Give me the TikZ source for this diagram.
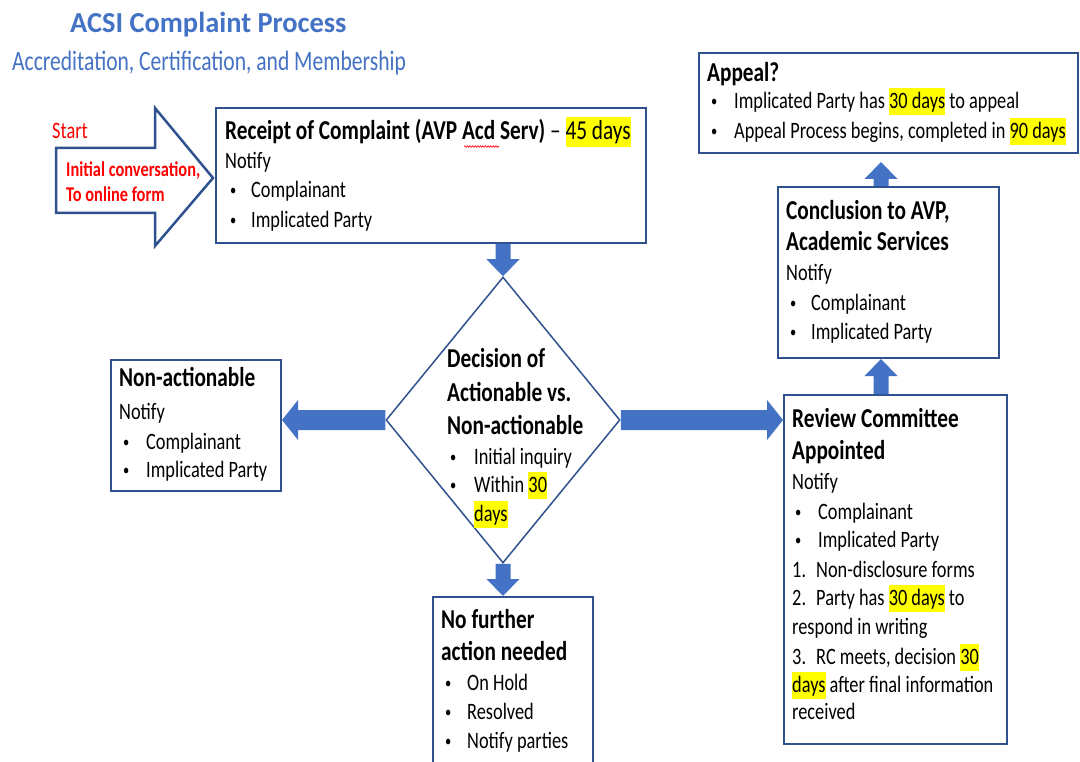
\documentclass[tikz,border=0pt]{standalone}
\usepackage{fontspec}
\setmainfont{Carlito}[FakeStretch=0.78]
\newfontfamily\titlefont{Carlito}[FakeStretch=0.98]
\newfontfamily\subfont{Carlito}[FakeStretch=0.77]
\usetikzlibrary{shapes.geometric,calc,decorations.pathmorphing}
\definecolor{boxblue}{RGB}{47,82,143}
\definecolor{arrowblue}{RGB}{68,114,196}
\definecolor{titleblue}{RGB}{68,114,196}
\definecolor{hlyellow}{RGB}{255,255,0}
\definecolor{txtred}{RGB}{255,0,0}
\newcommand{\hl}[1]{{\setlength{\fboxsep}{0pt}\colorbox{hlyellow}{\rule[-0.27em]{0pt}{1.13em}#1}}}
\newcommand{\bul}[1]{\makebox[#1][l]{\raisebox{2.2pt}{\fontsize{16}{16}\selectfont•}}}
\newcommand{\barrowdown}[2]{\fill[arrowblue] ($(#1)+(-7.5,0)$) -- ($(#2)+(-7.5,-17)$) -- ($(#2)+(-16.5,-17)$) -- (#2) -- ($(#2)+(16.5,-17)$) -- ($(#2)+(7.5,-17)$) -- ($(#1)+(7.5,0)$) -- cycle;}
\newcommand{\barrowup}[2]{\fill[arrowblue] ($(#1)+(-7.5,0)$) -- ($(#2)+(-7.5,17)$) -- ($(#2)+(-16.5,17)$) -- (#2) -- ($(#2)+(16.5,17)$) -- ($(#2)+(7.5,17)$) -- ($(#1)+(7.5,0)$) -- cycle;}
\newcommand{\barrowleft}[2]{\fill[arrowblue] ($(#1)+(0,-10)$) -- ($(#2)+(16,-10)$) -- ($(#2)+(16,-20)$) -- (#2) -- ($(#2)+(16,20)$) -- ($(#2)+(16,10)$) -- ($(#1)+(0,10)$) -- cycle;}
\newcommand{\barrowright}[2]{\fill[arrowblue] ($(#1)+(0,-10)$) -- ($(#2)+(-16,-10)$) -- ($(#2)+(-16,-20)$) -- (#2) -- ($(#2)+(-16,20)$) -- ($(#2)+(-16,10)$) -- ($(#1)+(0,10)$) -- cycle;}
\tikzset{
  box/.style={draw=boxblue, line width=2pt, fill=white, inner sep=0pt, anchor=north west},
  txt/.style={anchor=base west, inner sep=0pt, text=black, font=\fontsize{23.5}{28}\selectfont},
  head/.style={txt, font=\fontsize{27.3}{32}\selectfont\bfseries},
  redtxt/.style={txt, text=txtred},
  redhead/.style={txt, text=txtred, font=\fontsize{21}{25}\selectfont\bfseries},
}
\begin{document}
\begin{tikzpicture}[x=1pt,y=-1pt]
\clip (0,0) rectangle (1080,762);
\fill[white] (0,0) rectangle (1080,762);

% titles
\node[anchor=base west, inner sep=0pt, text=titleblue, font=\titlefont\fontsize{29}{34}\selectfont\bfseries] (title) at (70,32.7) {ACSI Complaint Process};
\node[anchor=base west, inner sep=0pt, text=titleblue, font=\subfont\fontsize{28}{33}\selectfont] (subtitle) at (12,71) {Accreditation, Certification, and Membership};

% boxes
\node[box, minimum width=430pt, minimum height=135pt] (receipt) at (215,107) {};
\node[box, minimum width=379pt, minimum height=100pt] (appeal) at (698,52) {};
\node[box, minimum width=221pt, minimum height=171pt] (conc) at (777,186) {};
\node[box, minimum width=223pt, minimum height=349pt] (review) at (783,394) {};
\node[box, minimum width=170pt, minimum height=131pt] (nonact) at (110,359) {};
\node[box, minimum width=160pt, minimum height=200pt] (nofurther) at (432,596) {};
\node[diamond, draw=boxblue, line width=1.5pt, fill=white, minimum width=234pt, minimum height=286pt, inner sep=0pt] (dec) at (503,420) {};

% start arrow
\coordinate (startTip) at ($(receipt.west)+(-2,2.5)$);
\draw[boxblue, line width=2.5pt, fill=white, line join=miter] (56,148) -- (155,148) -- (155,108) -- (startTip) -- (155,246) -- (155,213) -- (56,213) -- cycle;
\node[redtxt] (start) at (52,139) {Start};
\node[redhead] (init1) at (66,177) {Initial conversation,};
\node[redhead] (init2) at (66,202) {To online form};

% connectors
\coordinate (a1s) at (receipt.south -| dec.north);
\barrowdown{a1s}{dec.north}
\coordinate (a2t) at (dec.west -| nonact.east);
\barrowleft{dec.west}{a2t}
\coordinate (a3t) at (dec.east -| review.west);
\barrowright{dec.east}{a3t}
\coordinate (a4t) at (nofurther.north -| dec.south);
\barrowdown{dec.south}{a4t}
\coordinate (a5t) at ($(conc.south)+(-7.5,0)$);
\coordinate (a5s) at (a5t |- review.north);
\barrowup{a5s}{a5t}
\coordinate (a6s) at ($(conc.north)+(-7.5,0)$);
\coordinate (a6b) at (a6s |- appeal.south);
\coordinate (a6t) at ($(a6b)+(0,8)$);
\barrowup{a6s}{a6t}

% receipt text
\node[head] (r1) at (225,140) {Receipt of Complaint (AVP Acd Serv) {\mdseries–} {\mdseries\hl{45 days}}};
\draw[red, line width=0.6pt, decorate, decoration={snake, amplitude=0.8pt, segment length=2.6pt}] (464,146.5) -- (499,146.5);
\node[txt] (r2) at (225,168.5) {Notify};
\node[txt] (r3) at (230,197.5) {\bul{21pt}Complainant};
\node[txt] (r4) at (230,227.5) {\bul{21pt}Implicated Party};

% appeal text
\node[head] (p1) at (707,82) {Appeal?};
\node[txt] (p2) at (711,108.5) {\bul{23pt}Implicated Party has \hl{30 days} to appeal};
\node[txt] (p3) at (711,138.5) {\bul{23pt}Appeal Process begins, completed in \hl{90 days}};

% conclusion text
\node[head] (c1) at (786,220) {Conclusion to AVP,};
\node[head] (c2) at (786,251) {Academic Services};
\node[txt] (c3) at (786,280.5) {Notify};
\node[txt] (c4) at (790,310.5) {\bul{21pt}Complainant};
\node[txt] (c5) at (790,339.5) {\bul{21pt}Implicated Party};

% review text
\node[head] (v1) at (792,427) {Review Committee};
\node[head] (v2) at (792,459) {Appointed};
\node[txt] (v3) at (792,489.5) {Notify};
\node[txt] (v4) at (795,519.5) {\bul{23pt}Complainant};
\node[txt] (v5) at (795,547.5) {\bul{23pt}Implicated Party};
\node[txt] (v6) at (792,577.5) {\makebox[24pt][l]{1.}Non-disclosure forms};
\node[txt] (v7) at (792,605.5) {\makebox[24pt][l]{2.}Party has \hl{30 days} to};
\node[txt] (v8) at (792,634.5) {respond in writing};
\node[txt] (v9) at (792,664.5) {\makebox[24pt][l]{3.}RC meets, decision \hl{30}};
\node[txt] (v10) at (792,692.5) {\hl{days} after final information};
\node[txt] (v11) at (792,719.5) {received};

% non-actionable text
\node[head] (n1) at (119,386) {Non-actionable};
\node[txt] (n2) at (119,419.5) {Notify};
\node[txt] (n3) at (123,449.5) {\bul{23pt}Complainant};
\node[txt] (n4) at (123,477.5) {\bul{23pt}Implicated Party};

% decision text
\node[head] (d1) at (447,367) {Decision of};
\node[head] (d2) at (447,401) {Actionable vs.};
\node[head] (d3) at (447,434) {Non-actionable};
\node[txt] (d4) at (450,464.5) {\bul{24pt}Initial inquiry};
\node[txt] (d5) at (450,492.5) {\bul{24pt}Within \hl{30}};
\node[txt] (d6) at (474,521.5) {\hl{days}};

% no further text
\node[head] (f1) at (441,628) {No further};
\node[head] (f2) at (441,660) {action needed};
\node[txt] (f3) at (445,690.5) {\bul{22pt}On Hold};
\node[txt] (f4) at (445,719.5) {\bul{22pt}Resolved};
\node[txt] (f5) at (445,748.5) {\bul{22pt}Notify parties};
\end{tikzpicture}
\end{document}
